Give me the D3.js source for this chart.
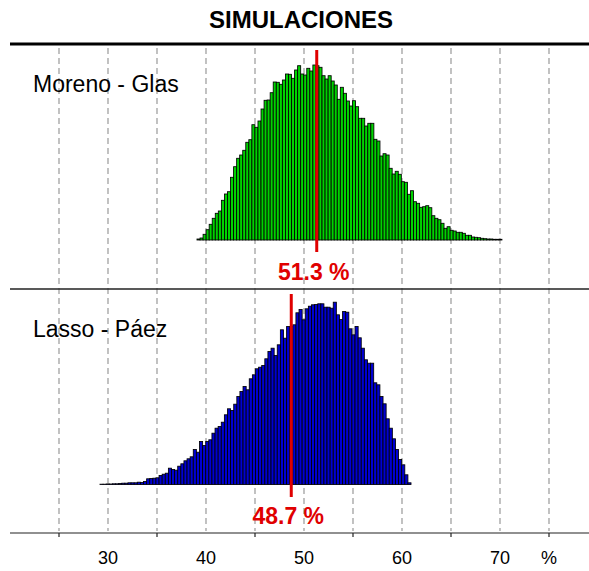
<!DOCTYPE html>
<html>
<head>
<meta charset="utf-8">
<script src="https://cdn.jsdelivr.net/npm/d3@7"></script>
<style>
  html, body { margin: 0; padding: 0; background: #fff; }
  svg { display: block; font-family: "Liberation Sans", Arial, Helvetica, sans-serif; }
</style>
</head>
<body>
<svg id="chart" width="589" height="571"></svg>
<script>
// ---------- DATA ----------
const title = "SIMULACIONES";
const panelNames = ["Moreno - Glas", "Lasso - Páez"];
const medians = [51.3, 48.7];
const medianLabels = ["51.3 %", "48.7 %"];
const tickLabels = ["30", "40", "50", "60", "70"];
const tickLabelValues = [30, 40, 50, 60, 70];
const unitLabel = "%";
const gridValues = [25, 30, 35, 40, 45, 50, 55, 60, 65, 70, 75];
const axisTickValues = [25, 35, 45, 55, 65, 75];

// histogram range (in %) for each panel, 100 bins each
const greenRange = [39.08, 70.2];
const blueRange = [29.18, 60.92];

// bin frequencies (relative units)
const greenFreq = [
  1, 2, 5.7, 10.3, 15.7, 21.7, 26.7, 29, 39.7, 46,
  48.3, 62.7, 73.3, 81.7, 85, 89.7, 97.7, 100.3, 115.3, 112.7,
  119, 131, 139.7, 140, 147.3, 158, 157.7, 155.7, 160, 166,
  165.7, 161.7, 170, 174.3, 166, 165, 171.7, 169, 175, 174.3,
  172.7, 164.3, 161, 164.3, 159, 155, 140.7, 152.7, 146.7, 139,
  134, 139.3, 133.3, 121.7, 121.7, 114, 116.7, 116.7, 100.7, 99,
  84, 86.3, 85, 71.7, 66, 68.7, 65.7, 58.3, 57.7, 45.7,
  49.3, 38.3, 36.7, 32.7, 33.3, 34.3, 32.3, 24.3, 21.7, 20.3,
  16.7, 11.7, 13.3, 9.7, 9, 7.7, 7.7, 6.7, 4.7, 4.7,
  3, 2.7, 2.3, 1.7, 1.3, 1, 1, 0.7, 0.7, 0.7
];
const blueFreq = [
  0.3, 0.3, 0.5, 0.5, 0.7, 0.7, 1, 1.3, 1.3, 1.7,
  1.7, 1.7, 2.3, 2, 3, 5.7, 6, 6.3, 6.7, 9,
  10.3, 11.3, 16.3, 15, 14.3, 18.3, 20.7, 23.7, 25.7, 27.7,
  35, 32.3, 43, 39, 43, 44.7, 51.3, 56.3, 58, 62.3,
  69.7, 75.7, 74, 80.3, 88, 93, 98, 94.7, 105.7, 109.7,
  115.7, 117.3, 119, 125.7, 133, 136.3, 129, 139.7, 154.7, 146.3,
  158, 158, 159.7, 171.7, 175, 164.7, 175.7, 178.3, 179.7, 180,
  180.7, 180.7, 177.3, 177.3, 176.3, 182.3, 169.7, 165, 173, 172.3,
  155.7, 149.7, 158, 146.7, 136.3, 124.7, 121.3, 121.3, 101.7, 99.7,
  88, 80.7, 65.7, 56.3, 45.7, 35, 25, 19.7, 9.7, 1.7
];

// ---------- LAYOUT ----------
const svg = d3.select("#chart");
const W = 589;
const x = d3.scaleLinear().domain([25, 75]).range([59, 549]);
const h = d3.scaleLinear().domain([0, 180]).range([0, 180]);

const panels = [
  { name: panelNames[0], freq: greenFreq, range: greenRange, fill: "#00d200", base: 240, median: medians[0], mlabel: medianLabels[0], lineTop: 50, lineBot: 252, labelY: 280, nameY: 92 },
  { name: panelNames[1], freq: blueFreq, range: blueRange, fill: "#0000d2", base: 484.5, median: medians[1], mlabel: medianLabels[1], lineTop: 294, lineBot: 497, labelY: 524, nameY: 337 }
];

// gridlines
svg.append("g").selectAll("line").data(gridValues).join("line")
  .attr("x1", d => x(d)).attr("x2", d => x(d))
  .attr("y1", 48).attr("y2", 531)
  .attr("stroke", "#a8a8a8").attr("stroke-width", 1.4)
  .attr("stroke-dasharray", "6,4");

// title
svg.append("text").attr("x", 301).attr("y", 28)
  .attr("text-anchor", "middle").attr("font-size", 24).attr("font-weight", "bold")
  .attr("fill", "#000").text(title);

// top thick rule
svg.append("line").attr("x1", 10).attr("x2", W).attr("y1", 44).attr("y2", 44)
  .attr("stroke", "#000").attr("stroke-width", 3);
// middle rule
svg.append("line").attr("x1", 10).attr("x2", W).attr("y1", 289).attr("y2", 289)
  .attr("stroke", "#222").attr("stroke-width", 1.5);

panels.forEach(p => {
  const n = p.freq.length;
  const edges = d3.range(n + 1).map(i => p.range[0] + (p.range[1] - p.range[0]) * i / n);
  const g = svg.append("g");
  g.selectAll("rect").data(p.freq).join("rect")
    .attr("x", (d, i) => x(edges[i]))
    .attr("width", (d, i) => x(edges[i + 1]) - x(edges[i]))
    .attr("y", d => p.base - h(d))
    .attr("height", d => h(d))
    .attr("fill", p.fill)
    .attr("stroke", "#000").attr("stroke-width", 0.85);

  // panel name
  svg.append("text").attr("x", 33).attr("y", p.nameY)
    .attr("font-size", 23).attr("fill", "#000").text(p.name);

  // median line
  svg.append("line").attr("x1", x(p.median)).attr("x2", x(p.median))
    .attr("y1", p.lineTop).attr("y2", p.lineBot)
    .attr("stroke", "#e00000").attr("stroke-width", 3);
  svg.append("text").attr("x", x(p.median) - 3).attr("y", p.labelY)
    .attr("text-anchor", "middle").attr("font-size", 23).attr("font-weight", "bold")
    .attr("fill", "#e00000").text(p.mlabel);
});

// bottom axis
svg.append("line").attr("x1", 10).attr("x2", W).attr("y1", 533).attr("y2", 533)
  .attr("stroke", "#222").attr("stroke-width", 1.2);
svg.append("g").selectAll("line").data(axisTickValues).join("line")
  .attr("x1", d => x(d)).attr("x2", d => x(d))
  .attr("y1", 533).attr("y2", 537)
  .attr("stroke", "#222").attr("stroke-width", 1.2);
svg.append("g").selectAll("text").data(tickLabelValues).join("text")
  .attr("x", d => x(d)).attr("y", 564)
  .attr("text-anchor", "middle").attr("font-size", 18).attr("fill", "#000")
  .text((d, i) => tickLabels[i]);
svg.append("text").attr("x", x(75)).attr("y", 564)
  .attr("text-anchor", "middle").attr("font-size", 18).attr("fill", "#000")
  .text(unitLabel);
</script>
</body>
</html>
